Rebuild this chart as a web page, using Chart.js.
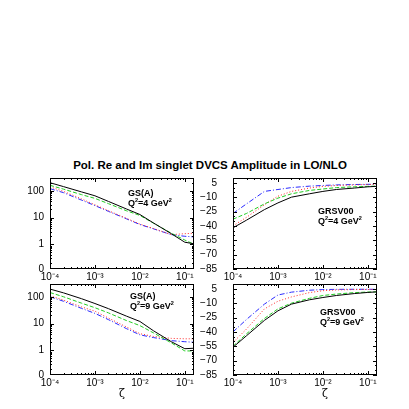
<!DOCTYPE html>
<html>
<head>
<meta charset="utf-8">
<script src="https://cdn.jsdelivr.net/npm/chart.js@4.4.1/dist/chart.umd.min.js"></script>
<style>
html,body{margin:0;padding:0;background:#fff;width:409px;height:409px;overflow:hidden;font-family:"Liberation Sans",Arial,sans-serif}
canvas{position:absolute}
#title{position:absolute;left:0;width:420px;top:159px;text-align:center;font:bold 11.5px "Liberation Sans",Arial,sans-serif;white-space:nowrap}
.note{position:absolute;font:bold 9px "Liberation Sans",Arial,sans-serif;line-height:9.5px;white-space:nowrap}
.note sup{font-size:5.5px;vertical-align:4px;line-height:0}
.zeta{position:absolute;font:11px "DejaVu Serif",serif;line-height:11px}
</style>
</head>
<body>
<div id="title">Pol. Re and Im singlet DVCS Amplitude in LO/NLO</div>

<canvas id="c1" width="200" height="114" style="left:0;top:170px"></canvas>
<canvas id="c2" width="200" height="114" style="left:200px;top:170px"></canvas>
<canvas id="c3" width="200" height="114" style="left:0;top:276px"></canvas>
<canvas id="c4" width="200" height="114" style="left:200px;top:276px"></canvas>

<div class="note" style="left:128px;top:189px">GS(A)<br>Q<sup>2</sup>=4 GeV<sup>2</sup></div>
<div class="note" style="left:318px;top:207px">GRSV00<br>Q<sup>2</sup>=4 GeV<sup>2</sup></div>
<div class="note" style="left:130px;top:292px">GS(A)<br>Q<sup>2</sup>=9 GeV<sup>2</sup></div>
<div class="note" style="left:320px;top:308px">GRSV00<br>Q<sup>2</sup>=9 GeV<sup>2</sup></div>
<div class="zeta" style="left:119px;top:388px">ζ</div>
<div class="zeta" style="left:322px;top:388px">ζ</div>

<script>
// x-Werte (ζ)
const xi = [1e-4, 2e-4, 5e-4, 1e-3, 2e-3, 5e-3, 1e-2, 2e-2, 5e-2, 1e-1, 0.16];
const xTicks = [1e-4, 1e-3, 1e-2, 1e-1];
const xLabels = ['10⁻⁴', '10⁻³', '10⁻²', '10⁻¹'];

// GS(A), Q^2 = 4 GeV^2 (log)
const gs4Black = [200, 143, 91, 65, 40, 21, 13, 6.3, 2.5, 1.2, 1.05];
const gs4Green = [160, 115, 72, 52, 33, 18, 12, 6.2, 2.6, 1.45, 1.0];
const gs4Red   = [140, 95, 50, 30, 18, 9.4, 5.7, 3.9, 2.3, 2.5, 2.6];
const gs4Blue  = [120, 85, 45, 28, 17, 9, 5.5, 3.8, 2.3, 2.0, 1.9];

// GRSV00, Q^2 = 4 GeV^2 (linear)
const gr4Black = [-42, -34, -23, -16, -10, -6.5, -4, -2, -0.5, 0.8, 1.3];
const gr4Green = [-33, -27, -17, -11, -6.5, -3, -1.5, 0, 0.8, 1.3, 1.5];
const gr4Red   = [-40, -31, -18, -9, -4, -0.5, 1.2, 2.2, 2.8, 3.2, 3.4];
const gr4Blue  = [-27, -17, -4, -2, 0, 1.5, 2.2, 2.8, 3.2, 3.4, 3.5];

// GS(A), Q^2 = 9 GeV^2 (log)
const gs9Black = [194, 140, 85, 56, 36, 19, 12, 5.4, 2.1, 1.15, 1.2];
const gs9Green = [144, 100, 58, 39, 25, 13, 8.4, 4.5, 1.9, 0.95, 0.95];
const gs9Red   = [109, 75, 42, 29, 16, 7.5, 4.2, 3.3, 2.8, 2.7, 2.7];
const gs9Blue  = [100, 68, 37, 24, 14, 6.5, 3.8, 3.0, 2.3, 2.1, 2.0];

// GRSV00, Q^2 = 9 GeV^2 (linear)
const gr9Black = [-56, -44, -28, -18, -11, -6.5, -4.1, -2, 0, 1.2, 1.8];
const gr9Green = [-55, -42, -26, -16, -10, -5, -2, -0.5, 1, 1.6, 1.8];
const gr9Red   = [-51, -37, -16, -8, -3.5, 1, 3, 3.8, 4.2, 4.3, 4.3];
const gr9Blue  = [-40, -27, -11, -1.5, 1.5, 3.5, 4.2, 4.4, 4.5, 4.5, 4.4];

// y-Achsen
const logTicks = [0.12, 1, 10, 100];
const logLabels = ['0', '1', '10', '100'];
const linTicks = [5, -10, -25, -40, -55, -70, -85];

const FONT = { family: '"Liberation Sans", Arial, sans-serif', size: 10 };

// Rahmen + Ticks nach innen (alle vier Seiten)
const framePlugin = {
  id: 'frame',
  afterDraw(chart) {
    const { ctx, chartArea: a, scales: { x, y } } = chart;
    ctx.save();
    ctx.strokeStyle = '#000';
    ctx.lineWidth = 1;
    ctx.strokeRect(Math.round(a.left) + 0.5, Math.round(a.top) + 0.5,
                   Math.round(a.right - a.left) - 1, Math.round(a.bottom - a.top) - 1);
    ctx.beginPath();
    for (let d = 1e-4; d < 1; d *= 10) {
      for (let m = 1; m <= 9; m++) {
        const v = m * d;
        if (v < x.min || v > x.max) continue;
        const px = Math.round(x.getPixelForValue(v)) + 0.5;
        const len = m === 1 ? 4 : 2;
        ctx.moveTo(px, a.bottom); ctx.lineTo(px, a.bottom - len);
        ctx.moveTo(px, a.top); ctx.lineTo(px, a.top + len);
      }
    }
    const yv = [];
    if (y.type === 'logarithmic') {
      for (let d = 0.1; d < 1000; d *= 10)
        for (let m = 1; m <= 9; m++) yv.push([m * d, m === 1 ? 4 : 2]);
    } else {
      for (let v = -85; v <= 10; v += 5) yv.push([v, (v + 85) % 15 === 0 ? 4 : 2]);
    }
    yv.forEach(([v, len]) => {
      if (v < y.min || v > y.max) return;
      const py = Math.round(y.getPixelForValue(v)) + 0.5;
      ctx.moveTo(a.left, py); ctx.lineTo(a.left + len, py);
      ctx.moveTo(a.right, py); ctx.lineTo(a.right - len, py);
    });
    ctx.stroke();
    ctx.restore();
  }
};

// Label-Überhang nicht in die Plotfläche rechnen
function noPad(s) {
  s.paddingTop = 0; s.paddingBottom = 0; s.paddingLeft = 0; s.paddingRight = 0;
}

function series(vals, color, dash) {
  return {
    data: xi.map((x, i) => ({ x, y: vals[i] })),
    borderColor: color, borderWidth: 1, borderDash: dash,
    pointRadius: 0, tension: 0, fill: false
  };
}

function panel(id, lines, isLog, axisW, pad, padRight) {
  const yScale = isLog
    ? { type: 'logarithmic', min: 0.12, max: 300,
        afterBuildTicks: s => { s.ticks = logTicks.map(v => ({ value: v })); },
        ticks: { callback: (v, i) => logLabels[i] } }
    : { type: 'linear', min: -85, max: 10,
        afterBuildTicks: s => { s.ticks = linTicks.map(v => ({ value: v })); },
        ticks: { callback: v => String(v).replace('-', '−') } };
  Object.assign(yScale, {
    afterFit: s => { s.width = axisW; noPad(s); },
    grid: { display: false, drawTicks: false },
    border: { display: false }
  });
  Object.assign(yScale.ticks, { font: FONT, color: '#000', padding: pad, autoSkip: false });

  new Chart(document.getElementById(id), {
    type: 'line',
    data: { datasets: [
      series(lines[0], '#000000', []),
      series(lines[1], '#22cc22', [4, 2]),
      series(lines[2], '#ff2a2a', [1, 2]),
      series(lines[3], '#2a2aff', [5, 2, 1, 2])
    ] },
    options: {
      responsive: false, animation: false,
      layout: { padding: { top: 8, right: padRight, left: 0, bottom: 0 } },
      plugins: { legend: { display: false }, tooltip: { enabled: false } },
      scales: {
        x: {
          type: 'logarithmic', min: 1e-4, max: 0.16,
          afterBuildTicks: s => { s.ticks = xTicks.map(v => ({ value: v })); },
          afterFit: s => { s.height = 15; noPad(s); },
          grid: { display: false, drawTicks: false },
          border: { display: false },
          ticks: { callback: (v, i) => xLabels[i], font: FONT, color: '#000',
                   padding: 2, maxRotation: 0, autoSkip: false }
        },
        y: yScale
      }
    },
    plugins: [framePlugin]
  });
}

panel('c1', [gs4Black, gs4Green, gs4Red, gs4Blue], true, 50, 6, 6);
panel('c2', [gr4Black, gr4Green, gr4Red, gr4Blue], false, 33, 16, 23);
panel('c3', [gs9Black, gs9Green, gs9Red, gs9Blue], true, 50, 6, 6);
panel('c4', [gr9Black, gr9Green, gr9Red, gr9Blue], false, 33, 16, 23);
</script>
</body>
</html>
